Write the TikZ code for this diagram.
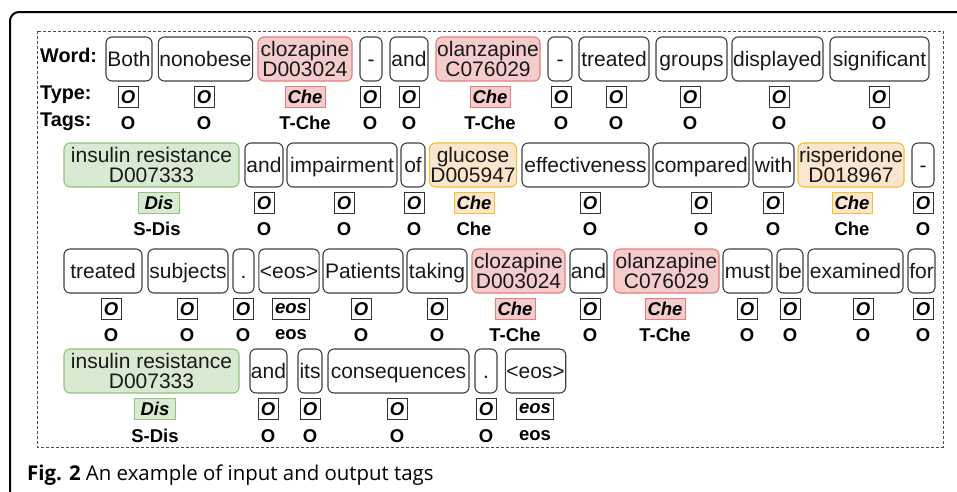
\documentclass[tikz,border=0pt]{standalone}
\usepackage{fontspec}
\setmainfont{Liberation Sans}
\newfontfamily\capfont{Open Sans}
\definecolor{redfill}{HTML}{F4CCCC}
\definecolor{redline}{HTML}{E06666}
\definecolor{grnfill}{HTML}{D9EAD3}
\definecolor{grnline}{HTML}{93C47D}
\definecolor{orgfill}{HTML}{FCE5CD}
\definecolor{orgline}{HTML}{F1C232}
\tikzset{
  wbox/.style={draw=black!75, line width=1.1pt, rounded corners=6pt, minimum height=44pt,
    inner sep=1pt, align=center, text=black!90, font=\fontsize{21}{20.5}\selectfont},
  wred/.style={wbox, draw=redline!85, fill=redfill},
  wgrn/.style={wbox, draw=grnline, fill=grnfill},
  worg/.style={wbox, draw=orgline, fill=orgfill},
  tbox/.style={draw=black!80, line width=1pt, inner sep=2.2pt, minimum height=21pt,
    minimum width=20pt, font=\bfseries\itshape\fontsize{18.5}{18.5}\selectfont},
  tred/.style={tbox, draw=redline!85, fill=redfill, minimum width=40pt},
  tgrn/.style={tbox, draw=grnline, fill=grnfill, minimum width=41pt},
  torg/.style={tbox, draw=orgline, fill=orgfill, minimum width=40pt},
  tagt/.style={inner sep=0pt, font=\bfseries\fontsize{18.5}{18.5}\selectfont},
  rowlab/.style={anchor=west, inner sep=0pt, font=\bfseries\fontsize{19.8}{19.8}\selectfont},
}
\newcommand{\wstrut}{\rule[-4.5pt]{0pt}{24pt}}
% single-line word box (with strut for a common baseline)
\newcommand{\wrd}[6][wbox]{\node[#1,minimum width={(#4)-(#3)}] (#2) at ({((#3)+(#4))/2},#5) {\wstrut#6};}
% two-line word box
\newcommand{\wrdd}[6][wbox]{\node[#1,minimum width={(#4)-(#3)}] (#2) at ({((#3)+(#4))/2},#5) {#6};}
\newcommand{\typ}[5][tbox]{\node[#1] (#2) at (#3,#4) {#5};}
\newcommand{\tg}[4]{\node[tagt] (#1) at (#2,#3) {#4};}
\begin{document}
\begin{tikzpicture}[x=1pt,y=-1pt]
\useasboundingbox (0,0) rectangle (957,491);
\fill[white] (0,0) rectangle (957,491);
% outer frame
\draw[line width=2pt, rounded corners=9pt] (10,500) -- (10,12) -- (965,12);
% dashed frame
\draw[black!70, line width=1pt, dash pattern=on 3pt off 2pt] (37,31) rectangle (943,447);
% row labels
\node[rowlab] (lw) at (40,55) {Word:};
\node[rowlab] (lt) at (40,95) {Type:};
\node[rowlab] (lg) at (40,122) {Tags:};
% ---------- Row 1 ----------
\wrd{w11}{106}{152}{59}{Both}
\wrd{w12}{159}{252}{59}{nonobese}
\wrdd[wred]{w13}{258}{352}{59}{clozapine\\D003024}
\wrd{w14}{360}{382}{59}{-}
\wrd{w15}{390}{428}{59}{and}
\wrdd[wred]{w16}{436}{540}{59}{olanzapine\\C076029}
\wrd{w17}{548}{572}{59}{-}
\wrd{w18}{579}{649}{59}{treated}
\wrd{w19}{656}{727}{59}{groups}
\wrd{w110}{732}{823}{59}{displayed}
\wrd{w111}{830}{929}{59}{significant}
\typ{t11}{128}{97}{O}
\typ{t12}{204}{97}{O}
\typ[tred]{t13}{305}{97}{Che}
\typ{t14}{370}{97}{O}
\typ{t15}{409}{97}{O}
\typ[tred]{t16}{490}{97}{Che}
\typ{t17}{561}{97}{O}
\typ{t18}{616}{97}{O}
\typ{t19}{690}{97}{O}
\typ{t110}{779}{97}{O}
\typ{t111}{879}{97}{O}
\tg{g11}{128}{123}{O}
\tg{g12}{204}{123}{O}
\tg{g13}{305}{123}{T-Che}
\tg{g14}{370}{123}{O}
\tg{g15}{409}{123}{O}
\tg{g16}{490}{123}{T-Che}
\tg{g17}{561}{123}{O}
\tg{g18}{616}{123}{O}
\tg{g19}{690}{123}{O}
\tg{g110}{779}{123}{O}
\tg{g111}{879}{123}{O}
% ---------- Row 2 ----------
\wrdd[wgrn]{w21}{64}{239}{165}{insulin resistance\\D007333}
\wrd{w22}{245}{283}{165}{and}
\wrd{w23}{287}{397}{165}{impairment}
\wrd{w24}{401}{425}{165}{of}
\wrdd[worg]{w25}{430}{516}{165}{glucose\\D005947}
\wrd{w26}{522}{649}{165}{effectiveness}
\wrd{w27}{653}{749}{165}{compared}
\wrd{w28}{753}{794}{165}{with}
\wrdd[worg]{w29}{798}{904}{165}{risperidone\\D018967}
\wrd{w210}{912}{934}{165}{-}
\typ[tgrn]{t21}{159}{203}{Dis}
\typ{t22}{264}{203}{O}
\typ{t23}{344}{203}{O}
\typ{t24}{414}{203}{O}
\typ[torg]{t25}{474}{203}{Che}
\typ{t26}{590}{203}{O}
\typ{t27}{701}{203}{O}
\typ{t28}{773}{203}{O}
\typ[torg]{t29}{852}{203}{Che}
\typ{t210}{923}{203}{O}
\tg{g21}{157}{229}{S-Dis}
\tg{g22}{264}{229}{O}
\tg{g23}{344}{229}{O}
\tg{g24}{414}{229}{O}
\tg{g25}{474}{229}{Che}
\tg{g26}{590}{229}{O}
\tg{g27}{701}{229}{O}
\tg{g28}{773}{229}{O}
\tg{g29}{852}{229}{Che}
\tg{g210}{923}{229}{O}
% ---------- Row 3 ----------
\wrd{w31}{64}{142}{271}{treated}
\wrd{w32}{148}{228}{271}{subjects}
\wrd{w33}{233}{254}{271}{.}
\wrd{w34}{260}{318}{271}{<eos>}
\wrd{w35}{323}{403}{271}{Patients}
\wrd{w36}{407}{467}{271}{taking}
\wrdd[wred]{w37}{472}{565}{271}{clozapine\\D003024}
\wrd{w38}{570}{607}{271}{and}
\wrdd[wred]{w39}{614}{719}{271}{olanzapine\\C076029}
\wrd{w310}{723}{772}{271}{must}
\wrd{w311}{777}{803}{271}{be}
\wrd{w312}{808}{903}{271}{examined}
\wrd{w313}{908}{935}{271}{for}
\typ{t31}{111}{309}{O}
\typ{t32}{187}{309}{O}
\typ{t33}{243}{309}{O}
\typ[tbox,minimum width=36pt]{t34}{291}{309}{eos}
\typ{t35}{361}{309}{O}
\typ{t36}{437}{309}{O}
\typ[tred]{t37}{515}{309}{Che}
\typ{t38}{590}{309}{O}
\typ[tred]{t39}{665}{309}{Che}
\typ{t310}{747}{309}{O}
\typ{t311}{790}{309}{O}
\typ{t312}{863}{309}{O}
\typ{t313}{923}{309}{O}
\tg{g31}{111}{335}{O}
\tg{g32}{187}{335}{O}
\tg{g33}{243}{335}{O}
\tg{g34}{291}{335}{eos}
\tg{g35}{361}{335}{O}
\tg{g36}{437}{335}{O}
\tg{g37}{515}{335}{T-Che}
\tg{g38}{590}{335}{O}
\tg{g39}{665}{335}{T-Che}
\tg{g310}{747}{335}{O}
\tg{g311}{790}{335}{O}
\tg{g312}{863}{335}{O}
\tg{g313}{923}{335}{O}
% ---------- Row 4 ----------
\wrdd[wgrn]{w41}{64}{239}{371}{insulin resistance\\D007333}
\wrd{w42}{250}{287}{371}{and}
\wrd{w43}{298}{322}{371}{its}
\wrd{w44}{328}{469}{371}{consequences}
\wrd{w45}{475}{497}{371}{.}
\wrd{w46}{506}{565}{371}{<eos>}
\typ[tgrn]{t41}{155}{409}{Dis}
\typ{t42}{268}{409}{O}
\typ{t43}{310}{409}{O}
\typ{t44}{397}{409}{O}
\typ{t45}{486}{409}{O}
\typ[tbox,minimum width=36pt]{t46}{535}{409}{eos}
\tg{g41}{155}{436}{S-Dis}
\tg{g42}{268}{436}{O}
\tg{g43}{310}{436}{O}
\tg{g44}{397}{436}{O}
\tg{g45}{486}{436}{O}
\tg{g46}{535}{436}{eos}
% caption
\node[anchor=base west, inner sep=0pt, font=\capfont\fontsize{20.4}{20.4}\selectfont] (cap) at (27,480)
  {\textbf{Fig. 2} An example of input and output tags};
\end{tikzpicture}
\end{document}
